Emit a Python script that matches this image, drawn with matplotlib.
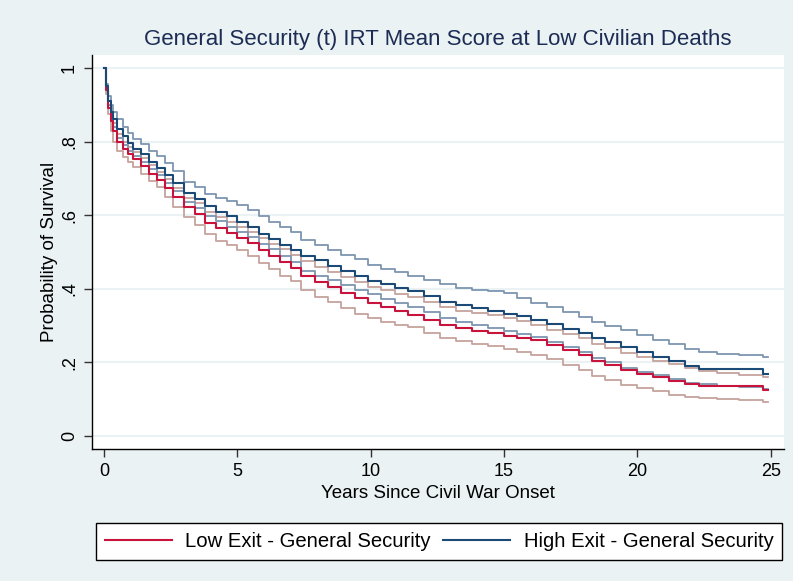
import numpy as np
import matplotlib
matplotlib.use('Agg')
from matplotlib import pyplot as plt

# Kaplan-Meier survival estimates with 95% CIs, shared event times (years)
years = [0, 0.08, 0.15, 0.25, 0.35, 0.5, 0.7, 0.9, 1.1, 1.4, 1.7, 2.0, 2.3, 2.6,
         3.0, 3.4, 3.8, 4.2, 4.6, 5.0, 5.4, 5.8, 6.2, 6.6, 7.0, 7.4, 7.9, 8.4,
         8.9, 9.4, 9.9, 10.4, 10.9, 11.4, 12.0, 12.6, 13.2, 13.8, 14.4, 15.0,
         15.5, 16.0, 16.6, 17.2, 17.8, 18.3, 18.8, 19.4, 20.0, 20.6, 21.2, 21.8,
         22.3, 23.0, 23.8, 24.7, 24.9]

low_surv = [1.0, 0.94, 0.89, 0.855, 0.83, 0.8, 0.78, 0.765, 0.752, 0.733, 0.713,
            0.696, 0.675, 0.65, 0.622, 0.603, 0.58, 0.565, 0.552, 0.538, 0.524,
            0.505, 0.49, 0.472, 0.456, 0.435, 0.418, 0.404, 0.39, 0.375, 0.362,
            0.352, 0.34, 0.33, 0.316, 0.302, 0.293, 0.286, 0.279, 0.272, 0.266,
            0.26, 0.247, 0.234, 0.22, 0.205, 0.194, 0.18, 0.17, 0.16, 0.151,
            0.142, 0.136, 0.136, 0.136, 0.125, 0.125]
low_upper = [1.0, 0.95, 0.91, 0.875, 0.85, 0.82, 0.8, 0.786, 0.772, 0.755, 0.735,
             0.717, 0.698, 0.675, 0.647, 0.632, 0.61, 0.596, 0.582, 0.568, 0.555,
             0.537, 0.522, 0.507, 0.492, 0.476, 0.46, 0.447, 0.432, 0.418, 0.405,
             0.396, 0.387, 0.378, 0.364, 0.35, 0.341, 0.335, 0.33, 0.322, 0.312,
             0.302, 0.288, 0.278, 0.266, 0.25, 0.238, 0.226, 0.214, 0.204, 0.195,
             0.184, 0.177, 0.172, 0.167, 0.16, 0.16]
low_lower = [1.0, 0.93, 0.875, 0.83, 0.8, 0.775, 0.758, 0.745, 0.732, 0.712, 0.692,
             0.677, 0.65, 0.622, 0.595, 0.572, 0.548, 0.53, 0.518, 0.505, 0.49,
             0.47, 0.455, 0.436, 0.42, 0.397, 0.378, 0.363, 0.347, 0.332, 0.32,
             0.311, 0.303, 0.295, 0.28, 0.267, 0.258, 0.251, 0.245, 0.237, 0.229,
             0.22, 0.209, 0.194, 0.179, 0.164, 0.153, 0.14, 0.13, 0.122, 0.113,
             0.105, 0.103, 0.1, 0.097, 0.092, 0.092]

high_surv = [1.0, 0.95, 0.91, 0.88, 0.86, 0.835, 0.815, 0.795, 0.78, 0.765, 0.745,
             0.728, 0.71, 0.688, 0.66, 0.645, 0.625, 0.61, 0.597, 0.582, 0.568,
             0.55, 0.536, 0.52, 0.505, 0.49, 0.478, 0.462, 0.448, 0.435, 0.422,
             0.412, 0.403, 0.395, 0.38, 0.365, 0.355, 0.348, 0.34, 0.332, 0.325,
             0.315, 0.304, 0.292, 0.28, 0.266, 0.256, 0.242, 0.228, 0.216, 0.203,
             0.19, 0.182, 0.182, 0.182, 0.168, 0.168]
high_upper = [1.0, 0.955, 0.925, 0.9, 0.88, 0.86, 0.84, 0.823, 0.807, 0.793, 0.775,
              0.76, 0.742, 0.72, 0.69, 0.676, 0.658, 0.646, 0.638, 0.628, 0.613,
              0.597, 0.582, 0.568, 0.554, 0.533, 0.52, 0.506, 0.492, 0.48, 0.466,
              0.455, 0.445, 0.435, 0.425, 0.413, 0.403, 0.398, 0.394, 0.388, 0.375,
              0.361, 0.35, 0.337, 0.324, 0.31, 0.3, 0.287, 0.274, 0.262, 0.25,
              0.236, 0.228, 0.224, 0.22, 0.215, 0.215]
high_lower = [1.0, 0.945, 0.9, 0.865, 0.84, 0.81, 0.79, 0.775, 0.762, 0.745, 0.725,
              0.709, 0.688, 0.665, 0.636, 0.62, 0.598, 0.583, 0.568, 0.554, 0.54,
              0.522, 0.508, 0.49, 0.473, 0.449, 0.435, 0.423, 0.41, 0.397, 0.385,
              0.373, 0.362, 0.352, 0.336, 0.32, 0.31, 0.302, 0.294, 0.286, 0.278,
              0.27, 0.256, 0.242, 0.228, 0.212, 0.2, 0.186, 0.174, 0.165, 0.155,
              0.145, 0.141, 0.137, 0.133, 0.128, 0.128]

xticks = [0, 5, 10, 15, 20, 25]
yticks = [0, 0.2, 0.4, 0.6, 0.8, 1]
ytick_labels = ['0', '.2', '.4', '.6', '.8', '1']

bg = '#eaf2f3'
red, navy = '#c8143c', '#1a4a75'
red_ci, navy_ci = '#c6a29c', '#7d95b0'

plt.rcParams['font.family'] = ['Liberation Sans', 'DejaVu Sans']

fig = plt.figure(figsize=(7.93, 5.81), dpi=100, facecolor=bg)
ax = fig.add_axes([0.116, 0.2272, 0.8727, 0.6781])

for g in yticks:
    ax.axhline(g, color=bg, lw=1.5, zorder=0)

ax.plot(years, low_upper, drawstyle='steps-post', color=red_ci, lw=1.3)
ax.plot(years, low_lower, drawstyle='steps-post', color=red_ci, lw=1.3)
ax.plot(years, high_upper, drawstyle='steps-post', color=navy_ci, lw=1.3)
ax.plot(years, high_lower, drawstyle='steps-post', color=navy_ci, lw=1.3)
ax.plot(years, low_surv, drawstyle='steps-post', color=red, lw=1.5,
        label='Low Exit - General Security')
ax.plot(years, high_surv, drawstyle='steps-post', color=navy, lw=1.5,
        label='High Exit - General Security')

ax.set_xlim(-0.45, 25.5)
ax.set_ylim(-0.035, 1.035)
ax.set_xticks(xticks)
ax.set_yticks(yticks)
ax.set_yticklabels(ytick_labels, rotation=90, va='center')
ax.tick_params(axis='both', labelsize=13, length=6, width=1, color='#333333',
               pad=4)
for s in ['top', 'right']:
    ax.spines[s].set_visible(False)
for s in ['left', 'bottom']:
    ax.spines[s].set_linewidth(1.0)

ax.set_xlabel('Years Since Civil War Onset', fontsize=13.5, labelpad=4)
ax.set_ylabel('Probability of Survival', fontsize=13.5, labelpad=2)
ax.set_title('General Security (t) IRT Mean Score at Low Civilian Deaths',
             fontsize=16, color='#1c2c55', pad=7)

leg = fig.legend(loc='center', bbox_to_anchor=(0.5536, 0.068), ncol=2,
                 frameon=True, fancybox=False, edgecolor='black', framealpha=1,
                 handlelength=3.3, handletextpad=0.65, columnspacing=0.65,
                 borderpad=0.45, borderaxespad=0, prop={'size': 14.6})
leg.get_frame().set_linewidth(1.0)

plt.savefig('out.png', dpi=100, facecolor=bg)
